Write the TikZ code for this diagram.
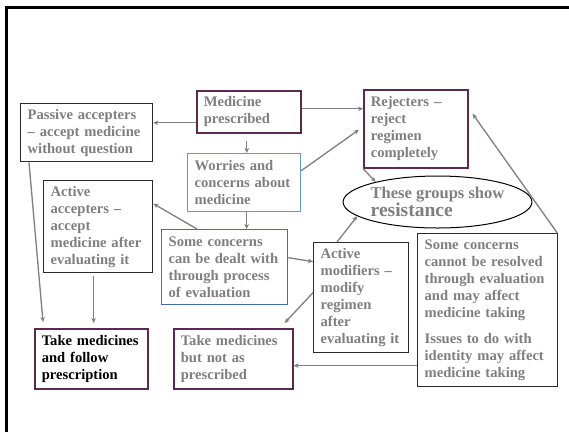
\documentclass[tikz,border=0pt]{standalone}
\usepackage{fontspec}
\setmainfont{Liberation Serif}
\usetikzlibrary{arrows.meta,shapes.geometric}
\definecolor{txtgray}{HTML}{7F7F7F}
\definecolor{arrgray}{HTML}{7F7F7F}
\definecolor{boxpurple}{HTML}{5A2A50}
\definecolor{boxblue}{HTML}{6A96CC}
\definecolor{boxblue2}{HTML}{3E6DB2}
\definecolor{boxdark}{HTML}{2B2B2B}
\tikzset{
  x=1pt, y=-1pt,
  box/.style={draw=boxdark, line width=1.3pt, anchor=north west, inner xsep=7pt, inner ysep=0pt,
    align=left, font=\bfseries\fontsize{14.6}{17}\selectfont, text=txtgray},
  pbox/.style={box, draw=boxpurple, line width=1.6pt},
  bbox/.style={box, draw=boxblue},
  bbox2/.style={box, draw=boxblue2},
  arr/.style={draw=arrgray, line width=1.3pt, -{Stealth[length=5pt,width=4.5pt]}},
}
\newcommand{\bx}[7]{\node[#1, minimum width=#4pt, minimum height=#5pt, text width=#6pt] (#2) at (#3) {#7};}
\begin{document}
\begin{tikzpicture}
\useasboundingbox (0,0) rectangle (569,432);
\fill[white] (0,0) rectangle (569,432);
\draw[line width=3pt, black] (6,432) -- (6,7) -- (569,7);

\bx{box}{passive}{20,103}{132}{58}{118}{Passive accepters\\– accept medicine\\without question}
\bx{pbox}{med}{196,90}{104}{42}{90}{Medicine\\prescribed}
\bx{bbox}{wor}{187,153}{113}{58}{99}{Worries and\\concerns about\\medicine}
\bx{box}{acc}{43,180}{109}{92}{95}{Active\\accepters –\\accept\\medicine after\\evaluating it}
\bx{bbox2}{deal}{161,229}{126}{75}{112}{Some concerns\\can be dealt with\\through process\\of evaluation}
\bx{pbox}{rej}{363,89}{104}{78}{90}{Rejecters –\\reject\\regimen\\completely}
\bx{box}{mod}{313,242}{95}{110}{81}{Active\\modifiers –\\modify\\regimen\\after\\evaluating it}
\bx{box}{cant}{417,233}{140}{153}{126}{Some concerns\\cannot be resolved\\through evaluation\\and may affect\\medicine taking\\[9pt]Issues to do with\\identity may affect\\medicine taking}
\bx{pbox}{take1}{34,328}{113}{60}{99}{\color{black}Take medicines\\\color{black}and follow\\\color{black}prescription}
\bx{pbox}{take2}{173,328}{119}{60}{105}{Take medicines\\but not as\\prescribed}

\node[ellipse, draw=black, line width=1pt, minimum width=177pt, minimum height=52pt, inner sep=0pt,
  align=left, text=txtgray, font=\bfseries] (ell) at (437.5,202)
  {\fontsize{16.5}{18}\selectfont These groups show\\\fontsize{19.5}{19}\selectfont resistance};

% connectors
\draw[arr] ([yshift=-11pt]med.west) -- ([yshift=-11pt]med.west -| passive.east);
\draw[arr] ([yshift=3pt]med.east) -- ([yshift=3pt]med.east -| rej.west);
\draw[arr, shorten <=7pt] ([xshift=-2pt]med.south) -- ([xshift=-2pt]med.south |- wor.north);
\draw[arr] ([xshift=2.5pt]wor.south) -- ([xshift=2.5pt]wor.south |- deal.north);
\draw[arr, shorten >=5pt] ([yshift=12pt]wor.east) -- ([yshift=2pt]rej.west);
\draw[arr] ([xshift=36pt]deal.north west) -- ([yshift=23pt]acc.east);
\draw[arr] ([yshift=9.5pt]deal.east) -- ([yshift=36pt]mod.west);
\draw[arr] ([yshift=5pt]mod.west) -- ([xshift=-9pt,yshift=5pt]take2.north east);
\draw[arr] ([xshift=24pt]mod.north west) -- (ell.190.6);
\draw[arr] (rej.south west) -- (ell.162.6);
\draw[arr] ([xshift=-1pt]cant.north east) -- ([xshift=4pt,yshift=15pt]rej.east);
\draw[arr] ([yshift=-55.5pt]cant.west) -- ([yshift=-55.5pt]cant.west -| take2.east);
\draw[arr] ([xshift=9pt]passive.south west) -- ([xshift=9pt,yshift=6pt]take1.north west);
\draw[arr, shorten <=3pt] ([xshift=-4.5pt]acc.south) -- ([xshift=-4.5pt,yshift=5pt]acc.south |- take1.north);
\end{tikzpicture}
\end{document}
